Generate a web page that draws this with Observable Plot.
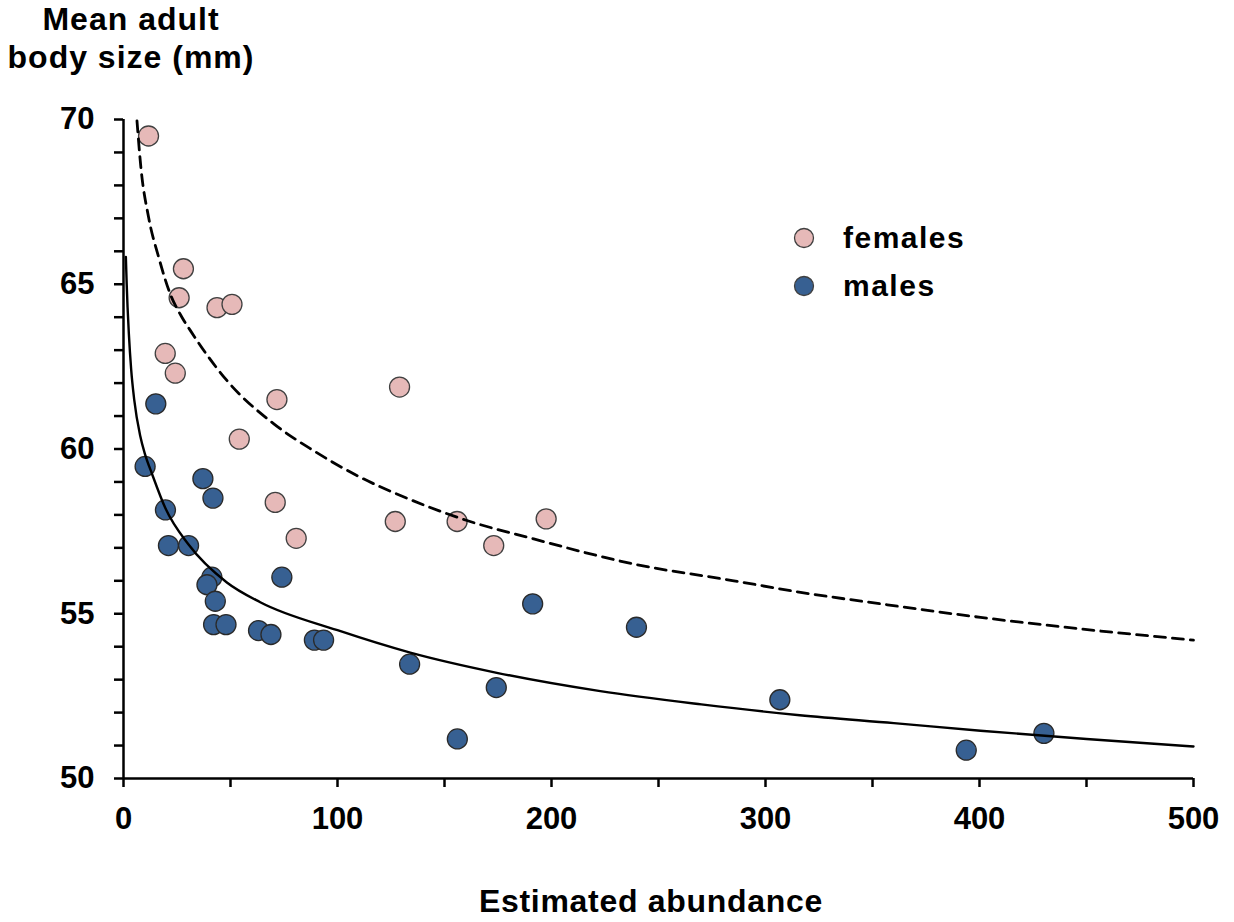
<!DOCTYPE html>
<html>
<head>
<meta charset="utf-8">
<script src="https://cdn.jsdelivr.net/npm/d3@7"></script>
<script src="https://cdn.jsdelivr.net/npm/@observablehq/plot@0.6"></script>
<style>
  html, body { margin: 0; padding: 0; background: #fff; }
  #wrap { position: relative; width: 1234px; height: 922px; overflow: hidden;
          font-family: "Liberation Sans", Arial, sans-serif; font-weight: bold; color: #000; }
  #wrap svg { display: block; }
  .ytitle { position: absolute; left: 0; width: 262px; top: 1px; text-align: center;
            font-size: 32px; line-height: 37.6px; letter-spacing: 1px; }
  .xtitle { position: absolute; left: 451px; width: 400px; top: 883px; text-align: center;
            font-size: 32px; line-height: normal; letter-spacing: 0.7px; }
  .leg { position: absolute; left: 793px; display: flex; align-items: center; height: 40px;
         font-size: 30px; letter-spacing: 1.5px; }
  .leg svg { margin-right: 28px; }
</style>
</head>
<body>
<div id="wrap"></div>
<script>
// ---- data ----
const femalesAbundance = [11.7, 28.0, 26.0, 43.7, 50.7, 19.5, 24.2, 71.7, 129.0, 54.1, 70.9, 80.7, 127.0, 155.9, 173.0, 197.5];
const femalesSize      = [69.50, 65.47, 64.59, 64.29, 64.39, 62.90, 62.30, 61.50, 61.88, 60.30, 58.38, 57.29, 57.80, 57.80, 57.07, 57.88];

const malesAbundance = [15.1, 10.1, 37.1, 41.8, 19.6, 21.0, 30.4, 41.3, 39.0, 42.9, 42.1, 47.9, 63.1, 68.9, 74.0, 89.2, 93.5, 133.7, 156.0, 191.2, 239.7, 174.2, 306.7, 393.8, 430.1];
const malesSize      = [61.37, 59.47, 59.10, 58.51, 58.15, 57.07, 57.07, 56.11, 55.88, 55.38, 54.67, 54.67, 54.49, 54.37, 56.11, 54.20, 54.20, 53.47, 51.20, 55.30, 54.59, 52.76, 52.39, 50.86, 51.37];

// trend curves
const femTrendX = [6.3, 8.1, 11.7, 16.4, 21.8, 27.3, 31.2, 48.3, 70.1, 88.8, 110.7, 129.4, 160.5, 191.7, 238.4, 285.2, 316.4, 353.8, 400.5, 447.3, 500];
const femTrendY = [69.96, 68.56, 67.04, 65.83, 64.71, 64.0, 63.6, 62.08, 60.77, 59.95, 59.14, 58.59, 57.83, 57.27, 56.51, 56.0, 55.65, 55.3, 54.89, 54.54, 54.2];

const maleTrendX = [1.1, 1.5, 1.9, 2.5, 3.6, 5, 7.8, 10, 13.3, 19.6, 30.4, 48.3, 63.9, 100, 134, 175, 222.8, 270, 316, 360, 400.5, 450, 500];
const maleTrendY = [65.83, 65.0, 64.3, 63.5, 62.4, 61.5, 60.4, 59.85, 59.25, 58.2, 57.1, 55.95, 55.35, 54.5, 53.82, 53.2, 52.65, 52.25, 51.92, 51.68, 51.45, 51.2, 50.97];

const seriesNames  = ["females", "males"];
const seriesColors = ["#E6B9B8", "#376092"];

const xTicks = d3.range(0, 501, 50);
const yTicks = d3.range(50, 71, 1);

const xTitle = "Estimated abundance";
const yTitle = ["Mean adult", "body size (mm)"];

// ---- build tables ----
const females = femalesAbundance.map((x, i) => ({x, y: femalesSize[i]}));
const males   = malesAbundance.map((x, i) => ({x, y: malesSize[i]}));
const femTrend = femTrendX.map((x, i) => ({x, y: femTrendY[i]}));
const maleTrend = maleTrendX.map((x, i) => ({x, y: maleTrendY[i]}));

const chart = Plot.plot({
  width: 1234,
  height: 922,
  marginLeft: 123,
  marginRight: 41,
  marginTop: 119,
  marginBottom: 144,
  x: {domain: [0, 500]},
  y: {domain: [50, 70]},
  style: {fontFamily: "Liberation Sans, Arial, sans-serif", fontWeight: "bold", fontSize: "31px", color: "#000", background: "#fff"},
  marks: [
    Plot.axisY({ticks: yTicks, tickSize: 9, tickPadding: 20, strokeWidth: 2.5, stroke: "#000",
      tickFormat: d => d % 5 === 0 ? String(d) : "", label: null, fontSize: 31, fontWeight: "bold", fill: "#000"}),
    Plot.axisX({ticks: xTicks, tickSize: 9, tickPadding: 19, strokeWidth: 2.5, stroke: "#000",
      tickFormat: d => d % 100 === 0 ? String(d) : "", label: null, fontSize: 31, fontWeight: "bold", fill: "#000"}),
    Plot.ruleX([0], {stroke: "#000", strokeWidth: 2.5}),
    Plot.ruleY([50], {stroke: "#000", strokeWidth: 2.5}),
    Plot.dot(females, {x: "x", y: "y", r: 10, fill: seriesColors[0], stroke: "#404040", strokeWidth: 1.3}),
    Plot.dot(males, {x: "x", y: "y", r: 10, fill: seriesColors[1], stroke: "#2a2a2a", strokeWidth: 1.3}),
    Plot.line(femTrend, {x: "x", y: "y", stroke: "#000", strokeWidth: 2.8, strokeDasharray: "11,7", curve: "monotone-x"}),
    Plot.line(maleTrend, {x: "x", y: "y", stroke: "#000", strokeWidth: 2.4, curve: "monotone-x"})
  ]
});

const wrap = document.getElementById("wrap");
wrap.appendChild(chart);

const yt = document.createElement("div");
yt.className = "ytitle";
yt.innerHTML = yTitle.join("<br>");
wrap.appendChild(yt);

const xt = document.createElement("div");
xt.className = "xtitle";
xt.textContent = xTitle;
wrap.appendChild(xt);

const legTops = [218, 266];
seriesNames.forEach((name, i) => {
  const row = document.createElement("div");
  row.className = "leg";
  row.style.top = legTops[i] + "px";
  row.innerHTML = `<svg width="22" height="22"><circle cx="11" cy="11" r="9.5" fill="${seriesColors[i]}" stroke="#404040" stroke-width="1.3"/></svg><span>${name}</span>`;
  wrap.appendChild(row);
});
</script>
</body>
</html>
